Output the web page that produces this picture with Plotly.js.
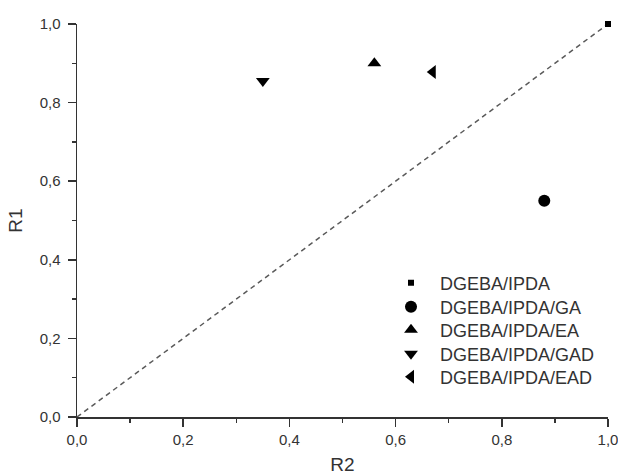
<!DOCTYPE html>
<html>
<head>
<meta charset="utf-8">
<script src="https://cdn.plot.ly/plotly-3.0.1.min.js"></script>
<style>html,body{margin:0;padding:0;background:#fff;}#chart{width:618px;height:475px;}</style>
</head>
<body>
<div id="chart"></div>
<script>
var seriesNames = ["DGEBA/IPDA", "DGEBA/IPDA/GA", "DGEBA/IPDA/EA", "DGEBA/IPDA/GAD", "DGEBA/IPDA/EAD"];
var r2Values = [1.0, 0.88, 0.56, 0.35, 0.67];
var r1Values = [1.0, 0.55, 0.90, 0.855, 0.878];
var symbols = ["square", "circle", "triangle-up", "triangle-down", "triangle-left"];
var markerSizes = [6, 12, 12, 12, 12];
var diagX = [0, 1];
var diagY = [0, 1];
var tickVals = [0, 0.2, 0.4, 0.6, 0.8, 1.0];

// plot area in pixels (for legend placement)
var L = 77, R = 10, T = 24, B = 58, W = 618, H = 475;
var plotW = W - L - R, plotH = H - T - B;
var legendRowY = [283, 307, 330, 354, 377];
var legendTextX = 440;
var itemW = 48;

var traces = [{
  x: diagX, y: diagY, mode: 'lines', showlegend: false, hoverinfo: 'skip',
  line: {color: '#5a5a5a', width: 1.5, dash: '5px,4px'}
}];
var legendNames = ['legend', 'legend2', 'legend3', 'legend4', 'legend5'];
for (var i = 0; i < seriesNames.length; i++) {
  traces.push({
    x: [r2Values[i]], y: [r1Values[i]], name: seriesNames[i], mode: 'markers',
    cliponaxis: false, legend: legendNames[i],
    marker: {symbol: symbols[i], size: markerSizes[i], color: '#000000'}
  });
}

var axisCommon = {
  range: [0, 1], showgrid: false, zeroline: false, showline: true,
  linecolor: '#333333', linewidth: 1.5, ticks: 'outside', ticklen: 8, tickwidth: 1.5,
  tickcolor: '#333333', tickvals: tickVals, tickformat: '.1f', ticklabeloverflow: 'allow',
  tickfont: {family: 'Liberation Sans, Arial, sans-serif', size: 15, color: '#333333'},
  minor: {ticks: 'outside', ticklen: 4, tickwidth: 1.5, tickcolor: '#333333', dtick: 0.1, showgrid: false},
  automargin: false
};

var layout = {
  width: W, height: H,
  margin: {l: L, r: R, t: T, b: B},
  paper_bgcolor: '#ffffff', plot_bgcolor: '#ffffff',
  separators: ',.',
  font: {family: 'Liberation Sans, Arial, sans-serif', color: '#333333'},
  showlegend: true,
  xaxis: Object.assign({}, axisCommon, {title: {text: 'R2', font: {size: 19, color: '#333333'}, standoff: 21}}),
  yaxis: Object.assign({}, axisCommon, {ticklabelstandoff: 4, title: {text: 'R1', font: {size: 19, color: '#333333'}, standoff: 12}})
};
for (var j = 0; j < legendNames.length; j++) {
  layout[legendNames[j]] = {
    x: (legendTextX - itemW - 10 - L) / plotW, y: (H - B - legendRowY[j]) / plotH,
    xanchor: 'left', yanchor: 'middle',
    bgcolor: 'rgba(0,0,0,0)', borderwidth: 0,
    font: {family: 'Liberation Sans, Arial, sans-serif', size: 18, color: '#333333'},
    itemwidth: itemW
  };
}

Plotly.newPlot('chart', traces, layout, {staticPlot: true, displayModeBar: false});
</script>
</body>
</html>
